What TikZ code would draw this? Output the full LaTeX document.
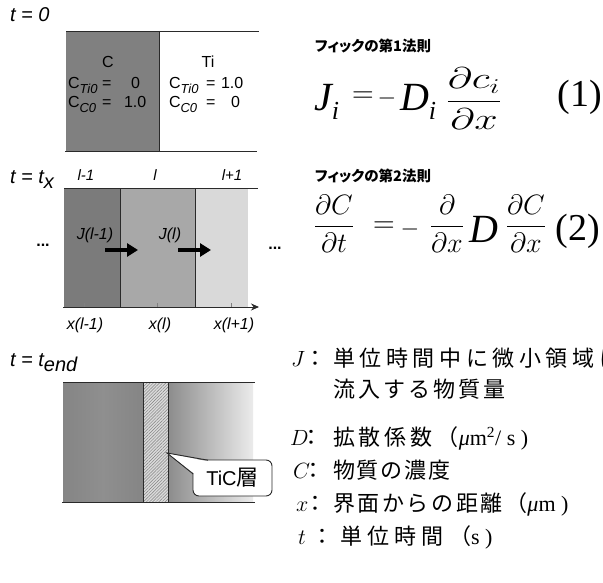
\RequirePackage{fix-cm}
\documentclass[tikz,border=0pt]{standalone}
\usepackage{amsmath}
\usepackage{fontspec}
\usetikzlibrary{arrows.meta,patterns.meta}
\newfontfamily\arialfont{Liberation Sans}
\newfontfamily\tnrfont{Liberation Serif}
\newfontfamily\tnrls[LetterSpace=25]{Liberation Serif}
\newfontfamily\jpfont{Noto Sans CJK JP}
\newfontfamily\jpprop[RawFeature=+palt]{Noto Sans CJK JP}
\newfontfamily\jpA[LetterSpace=21]{Noto Sans CJK JP}
\newfontfamily\jpB[LetterSpace=14]{Noto Sans CJK JP}
\newfontfamily\jpC[LetterSpace=18]{Noto Sans CJK JP}
\newfontfamily\jpD[LetterSpace=9]{Noto Sans CJK JP}
\newfontfamily\jpE[LetterSpace=12]{Noto Sans CJK JP}
\newfontfamily\jpF[LetterSpace=24]{Noto Sans CJK JP}
\newcommand\fsz[1]{\fontsize{#1}{#1}\selectfont}
\newcommand\isub[1]{\raisebox{-0.3em}{\fsz{13}\itshape #1}}
\definecolor{darkA}{HTML}{808080}
\definecolor{darkB}{HTML}{7B7B7B}
\definecolor{midB}{HTML}{A8A8A8}
\definecolor{lightB}{HTML}{D9D9D9}
\definecolor{darkC}{HTML}{858585}
\definecolor{darkCm}{HTML}{8F8F8F}
\definecolor{gradL}{HTML}{8C8C8C}
\definecolor{gradR}{HTML}{EBEBEB}
\definecolor{hatchbg}{HTML}{DADADA}
\definecolor{lineC}{HTML}{2A2A2A}
\begin{document}
\begin{tikzpicture}[x=1pt,y=-1pt,
  every node/.style={inner sep=0pt, outer sep=0pt},
  rule/.style={line width=0.9pt, draw=lineC},
  boxtxt/.style={font=\arialfont\fsz{16}, anchor=base west},
  tlabel/.style={font=\arialfont\itshape\fsz{20}, anchor=base west},
  cell/.style={font=\arialfont\itshape\fsz{15}, anchor=base},
  flux/.style={line width=4.5pt, -{Triangle[length=11pt,width=13pt]}},
  dots/.style={font=\arialfont\bfseries\fsz{16}, anchor=base},
  eqbig/.style={font=\tnrfont\itshape\fsz{40}, anchor=base west},
  eqnum/.style={font=\tnrfont\fsz{38}},
  frac/.style={font=\fsz{28}},
  title/.style={font=\jpprop\bfseries\fsz{14.5}, anchor=west},
  var/.style={font=\fsz{22}, anchor=base west},
  colon/.style={font=\jpfont\fsz{22}, anchor=base},
  legend/.style={anchor=base west},
]
\useasboundingbox (0,0) rectangle (603,583);
\clip (0,0) rectangle (603,583);

% ---------- t = 0 ----------
\node[tlabel] (t0) at (10,22) {t = 0};
\fill[darkA] (66,31) rectangle (159,151);
\draw[rule] (66,31) -- (259,31);
\draw[rule] (65,151) -- (257,151);
\draw[rule] (159,31) -- (159,151);
\node[boxtxt, anchor=base] (cC) at (108,68) {C};
\node[boxtxt] (cti1) at (68,89) {C\isub{Ti0}};
\node[boxtxt] (eq1a) at (102,89) {=};
\node[boxtxt] (v1a) at (131,89) {0};
\node[boxtxt] (cc1) at (68,108) {C\isub{C0}};
\node[boxtxt] (eq1b) at (102,108) {=};
\node[boxtxt] (v1b) at (124,108) {1.0};
\node[boxtxt, anchor=base] (cTi) at (208,68) {Ti};
\node[boxtxt] (cti2) at (169,89) {C\isub{Ti0}};
\node[boxtxt] (eq2a) at (206,89) {=};
\node[boxtxt] (v2a) at (221,89) {1.0};
\node[boxtxt] (cc2) at (169,108) {C\isub{C0}};
\node[boxtxt] (eq2b) at (206,108) {=};
\node[boxtxt] (v2b) at (231,108) {0};

% ---------- t = t_x ----------
\node[tlabel] (tx) at (10,184) {t = t\raisebox{-5pt}{x}};
\node[cell] (lm1) at (86,181) {l-1};
\node[cell] (l0) at (155,181) {l};
\node[cell] (lp1) at (232,181) {l+1};
\fill[darkB] (64,188) rectangle (120,307);
\fill[midB] (120,188) rectangle (195,307);
\fill[lightB] (195,188) rectangle (248,307);
\draw[rule] (120,188) rectangle (195,307);
\draw[rule] (64,188) -- (258,188);
\coordinate (ax0) at (63,307);
\coordinate (ax1) at (259,307);
\draw[rule, -{Stealth[length=8pt,width=7pt]}] (ax0) -- (ax1);
\draw[line width=0.6pt, draw=gray] (84,303) -- (84,307) (157,303) -- (157,307) (231,303) -- (231,307);
\node[cell, font=\arialfont\itshape\fsz{16}] (xm1) at (85,329) {x(l-1)};
\node[cell, font=\arialfont\itshape\fsz{16}] (x0) at (160,329) {x(l)};
\node[cell, font=\arialfont\itshape\fsz{16}] (xp1) at (234,329) {x(l+1)};
\node[cell, font=\arialfont\itshape\fsz{16}] (Jm1) at (95,240) {J(l-1)};
\node[cell, font=\arialfont\itshape\fsz{16}] (J0) at (170,240) {J(l)};
\coordinate (a1s) at (105,250); \coordinate (a1e) at (138,250);
\coordinate (a2s) at (178,250); \coordinate (a2e) at (211,250);
\draw[flux] (a1s) -- (a1e);
\draw[flux] (a2s) -- (a2e);
\node[dots] (dl) at (43,247) {...};
\node[dots] (dr) at (275,249) {...};

% ---------- t = t_end ----------
\node[tlabel] (te) at (10,366) {t = t\raisebox{-5pt}{end}};
\shade[left color=darkC, right color=darkC, middle color=darkCm] (63,382) rectangle (143,502);
\shade[left color=gradL, right color=gradR] (168,382) rectangle (253,502);
\fill[hatchbg] (143,382) rectangle (168,502);
\fill[pattern={Lines[angle=45,distance=2.2pt,line width=0.45pt]}, pattern color=gray] (143,382) rectangle (168,502);
\draw[rule] (143,382) rectangle (168,502);
\draw[rule] (63,382) -- (255,382);
\draw[rule] (62,502) -- (255,502);
\node[draw=lineC, line width=0.9pt, fill=white, rounded corners=6pt, minimum width=79pt, minimum height=36pt, font=\arialfont\fsz{20}] (tic) at (232.5,478) {TiC{\jpfont\fsz{22}層}};
\coordinate (tip) at (167,453);
\fill[white] (tip) -- (194.6,474) -- (208,461.4) -- cycle;
\draw[line width=0.9pt, draw=lineC, line join=miter] (193.2,474) -- (tip) -- (208,460.2);

% ---------- equations ----------
\node[title] (ttl1) at (315,46) {フィックの第1法則};
\node[eqbig] (Ji) at (314,111) {J\raisebox{-9pt}{\fsz{26}i}};
\node[font=\fsz{30}] (e1eq) at (363,97) {$=$};
\node[font=\fsz{24}] (e1mi) at (387,99) {$-$};
\node[eqbig] (Di) at (400,111) {D\raisebox{-9pt}{\fsz{26}i}};
\node[font=\fsz{30}] (f1) at (474,99) {\scalebox{1.4}[1]{$\displaystyle\frac{\partial c_i}{\partial x}$}};
\node[eqnum] (n1) at (580,97) {(1)};

\node[title] (ttl2) at (315,176) {フィックの第2法則};
\node[frac] (f2a) at (334,224) {$\displaystyle\frac{\partial C}{\partial t}$};
\node[font=\fsz{30}] (e2eq) at (384,227) {$=$};
\node[font=\fsz{24}] (e2mi) at (410,230) {$-$};
\node[frac] (f2b) at (447,224) {$\displaystyle\frac{\partial}{\partial x}$};
\node[eqbig] (D2) at (469,243) {D};
\node[frac] (f2c) at (526,224) {$\displaystyle\frac{\partial C}{\partial x}$};
\node[eqnum] (n2) at (578,231) {(2)};

% ---------- legend ----------
\node[var] (vJ) at (291,366) {$J$};
\node[colon] (cJ) at (315,366) {：};
\node[legend, font=\jpA\fsz{22}] (tJ) at (333,366) {単位時間中に微小領域に};
\node[legend, font=\jpB\fsz{22}] (tJ2) at (333,397) {流入する物質量};

\node[var] (vD) at (290,445) {$D$};
\node[colon] (cD) at (311,445) {：};
\node[legend] (tD) at (333,445) {{\jpC\fsz{22}拡散係数（}{\tnrls\itshape\fsz{22}μ}{\tnrls\fsz{22}m\textsuperscript{2}/s)}};

\node[var] (vC) at (293,478) {$C$};
\node[colon] (cC2) at (313,478) {：};
\node[legend] (tC) at (333,478) {{\jpD\fsz{22}物質の濃度}};

\node[var] (vx) at (296,511) {$x$};
\node[colon] (cx) at (315,511) {：};
\node[legend] (tx2) at (333,511) {{\jpE\fsz{22}界面からの距離（}{\tnrls\itshape\fsz{22}μ}{\tnrls\fsz{22}m)}};

\node[var] (vt) at (298,544) {$t$};
\node[colon] (ct) at (322,544) {：};
\node[legend] (tt) at (340,544) {{\jpF\fsz{22}単位時間（}{\tnrls\fsz{22}s)}};
\end{tikzpicture}
\end{document}
